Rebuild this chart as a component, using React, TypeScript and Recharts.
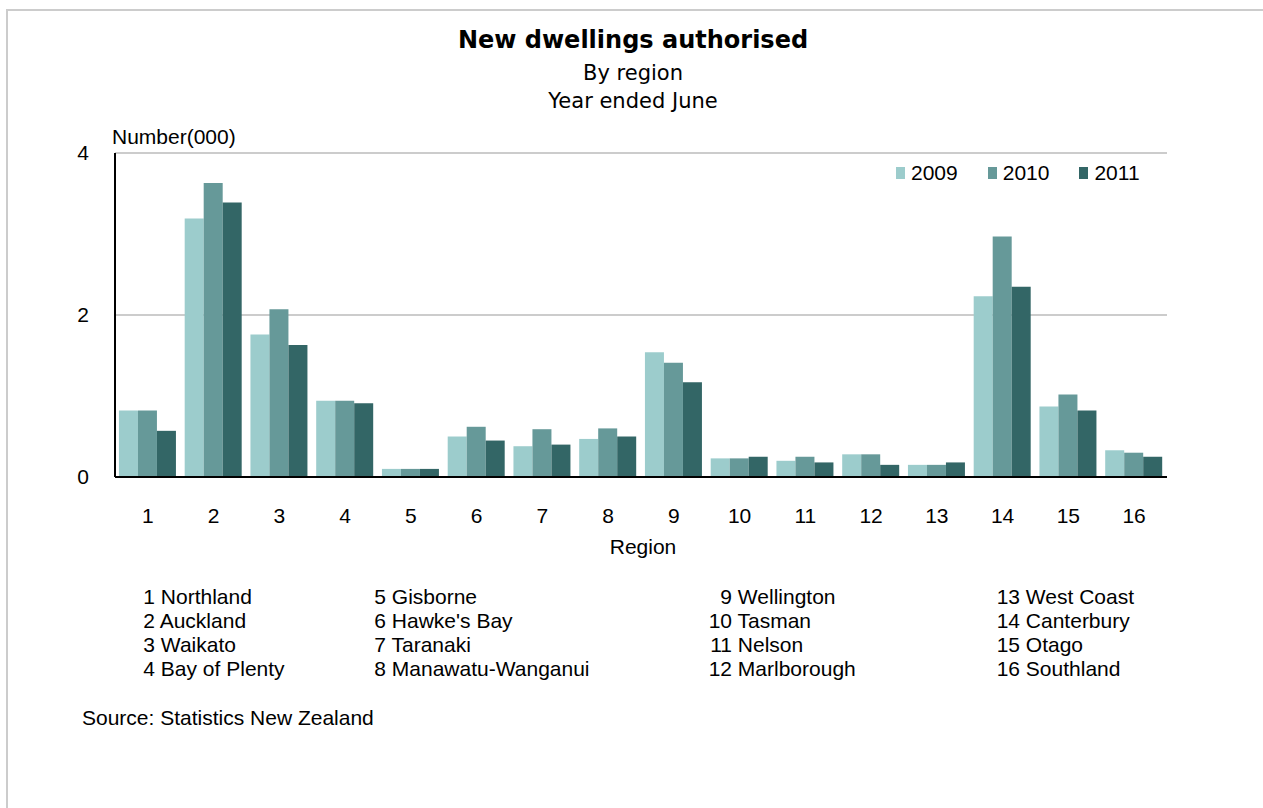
import React from 'react';
import {
  BarChart,
  Bar,
  XAxis,
  YAxis,
  CartesianGrid,
} from 'recharts';

const regions = ['1', '2', '3', '4', '5', '6', '7', '8', '9', '10', '11', '12', '13', '14', '15', '16'];
const y2009 = [0.82, 3.19, 1.76, 0.94, 0.1, 0.5, 0.38, 0.47, 1.54, 0.23, 0.2, 0.28, 0.15, 2.23, 0.87, 0.33];
const y2010 = [0.82, 3.63, 2.07, 0.94, 0.1, 0.62, 0.59, 0.6, 1.41, 0.23, 0.25, 0.28, 0.15, 2.97, 1.02, 0.3];
const y2011 = [0.57, 3.39, 1.63, 0.91, 0.1, 0.45, 0.4, 0.5, 1.17, 0.25, 0.18, 0.15, 0.18, 2.35, 0.82, 0.25];
const yTicks = [0, 2, 4];
const years = ['2009', '2010', '2011'];

const regionNames = [
  'Northland', 'Auckland', 'Waikato', 'Bay of Plenty',
  'Gisborne', "Hawke's Bay", 'Taranaki', 'Manawatu-Wanganui',
  'Wellington', 'Tasman', 'Nelson', 'Marlborough',
  'West Coast', 'Canterbury', 'Otago', 'Southland',
];

const data = regions.map((r, i) => ({
  region: r,
  '2009': y2009[i],
  '2010': y2010[i],
  '2011': y2011[i],
}));

const COLORS: Record<string, string> = { '2009': '#9ccccc', '2010': '#669999', '2011': '#336666' };
const FONT = '"Liberation Sans", Arial, sans-serif';
const WIDE = '"DejaVu Sans", Verdana, sans-serif';

const CHART_W = 1263;
const CHART_H = 600;

// region key in four columns under the chart
const columnX = [143, 374, 708, 996];

export default function App() {
  return (
    <div
      style={{
        position: 'absolute',
        left: 0,
        top: 0,
        width: 1263,
        height: 808,
        overflow: 'hidden',
        background: '#fff',
        color: '#000',
        fontFamily: FONT,
      }}
    >
      <div
        style={{
          position: 'absolute',
          left: 6,
          top: 9,
          width: 1400,
          height: 900,
          borderTop: '2px solid #cccccc',
          borderLeft: '2px solid #cccccc',
        }}
      />

      <div
        style={{
          position: 'absolute', left: 0, width: 1266, top: 25, textAlign: 'center',
          fontFamily: WIDE, fontWeight: 'bold', fontSize: 24, lineHeight: '30px',
        }}
      >
        New dwellings authorised
      </div>
      <div
        style={{
          position: 'absolute', left: 0, width: 1266, top: 59, textAlign: 'center',
          fontFamily: WIDE, fontSize: 21, lineHeight: '29px',
        }}
      >
        By region
      </div>
      <div
        style={{
          position: 'absolute', left: 0, width: 1266, top: 87, textAlign: 'center',
          fontFamily: WIDE, fontSize: 21, lineHeight: '29px',
        }}
      >
        Year ended June
      </div>

      <div style={{ position: 'absolute', left: 112, top: 124, fontSize: 21, lineHeight: '25px' }}>
        Number(000)
      </div>

      <div style={{ position: 'absolute', left: 0, top: 0 }}>
        <BarChart
          width={CHART_W}
          height={CHART_H}
          data={data}
          margin={{ top: 153, right: 96, left: 85, bottom: 93 }}
          barGap={0}
          barCategoryGap="6%"
        >
          <CartesianGrid horizontal vertical={false} stroke="#cccccc" strokeWidth={2} />
          <XAxis
            dataKey="region"
            height={30}
            axisLine={{ stroke: '#000', strokeWidth: 2 }}
            tickLine={false}
            tickSize={0}
            tickMargin={31}
            interval={0}
            tick={{ fill: '#000', fontSize: 21, fontFamily: FONT }}
          />
          <YAxis
            width={30}
            domain={[0, 4]}
            ticks={yTicks}
            axisLine={{ stroke: '#000', strokeWidth: 2 }}
            tickLine={false}
            tickSize={0}
            tickMargin={26}
            tick={{ fill: '#000', fontSize: 21, fontFamily: FONT }}
          />
          {years.map((y) => (
            <Bar key={y} dataKey={y} fill={COLORS[y]} isAnimationActive={false} />
          ))}
        </BarChart>
      </div>

      {/* series key, top right of the plot */}
      <div
        style={{
          position: 'absolute', left: 896, top: 160, display: 'flex', alignItems: 'center',
          fontSize: 21, lineHeight: '25px',
        }}
      >
        {years.map((y) => (
          <div key={y} style={{ display: 'flex', alignItems: 'center', marginRight: 30 }}>
            <span style={{ display: 'inline-block', width: 9, height: 12, background: COLORS[y], marginRight: 6 }} />
            <span>{y}</span>
          </div>
        ))}
      </div>

      <div style={{ position: 'absolute', left: 543, width: 200, top: 535, textAlign: 'center', fontSize: 21 }}>
        Region
      </div>

      {columnX.map((x, c) => (
        <div key={c} style={{ position: 'absolute', left: x, top: 585, fontSize: 21, lineHeight: '24px' }}>
          {regionNames.slice(c * 4, c * 4 + 4).map((name, k) => {
            const n = c * 4 + k + 1;
            return (
              <div key={name} style={{ whiteSpace: 'nowrap' }}>
                <span style={{ display: 'inline-block', width: c >= 2 ? 24 : 12, textAlign: 'right' }}>{n}</span>{' '}
                {name}
              </div>
            );
          })}
        </div>
      ))}

      <div style={{ position: 'absolute', left: 82, top: 705, fontSize: 21, lineHeight: '25px' }}>
        Source: Statistics New Zealand
      </div>
    </div>
  );
}
